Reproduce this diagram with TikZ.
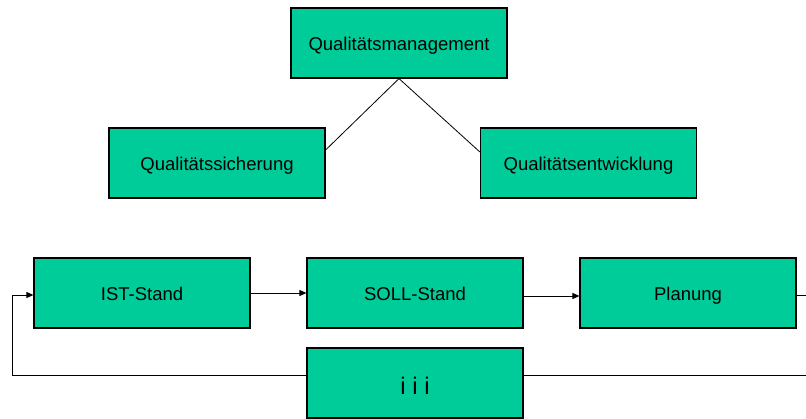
\documentclass[tikz,border=0pt]{standalone}
\usepackage{fontspec}
\setmainfont{Liberation Sans}
\usetikzlibrary{arrows.meta}
\definecolor{boxgreen}{HTML}{00CC99}
\tikzset{
  box/.style={draw=black, line width=1.2pt, fill=boxgreen, minimum width=216pt, minimum height=70pt, inner sep=0pt, text height=16pt, text depth=0pt, font=\fontsize{18.5}{22}\selectfont},
  conn/.style={draw=black, line width=0.8pt},
  arr/.style={conn, -{Triangle[length=7pt,width=6pt]}}
}
\begin{document}
\begin{tikzpicture}[x=1pt,y=-1pt]
\useasboundingbox (0,0) rectangle (806,419);
\node[box] (qm) at (399,43) {Qualitätsmanagement};
\node[box] (qs) at (217,163) {Qualitätssicherung};
\node[box] (qe) at (588.5,163) {Qualitätsentwicklung};
\draw[conn] (qm.south) -- (qs.east |- 0,150);
\draw[conn] (qm.south) -- (qe.west |- 0,152);

\node[box] (ist) at (142,293) {IST-Stand};
\node[box] (soll) at (415,293) {SOLL-Stand};
\node[box] (plan) at (688,293) {Planung};
\node[box, font=\fontsize{24}{28}\selectfont, text height=24pt] (iii) at (415,383) {i i i};
\coordinate (rout) at (806,295);
\coordinate (rback) at (806,375);
\coordinate (lcorner) at (12,375);
\draw[arr] (ist.east |- 0,293) -- (soll.west |- 0,293);
\draw[arr] (soll.east |- 0,296) -- (plan.west |- 0,296);
\draw[conn] (plan.east |- rout) -- (rout);
\draw[conn] (rback) -- (iii.east |- rback);
\draw[arr] (iii.west |- lcorner) -- (lcorner) |- (ist.west |- 0,295);
\end{tikzpicture}
\end{document}
